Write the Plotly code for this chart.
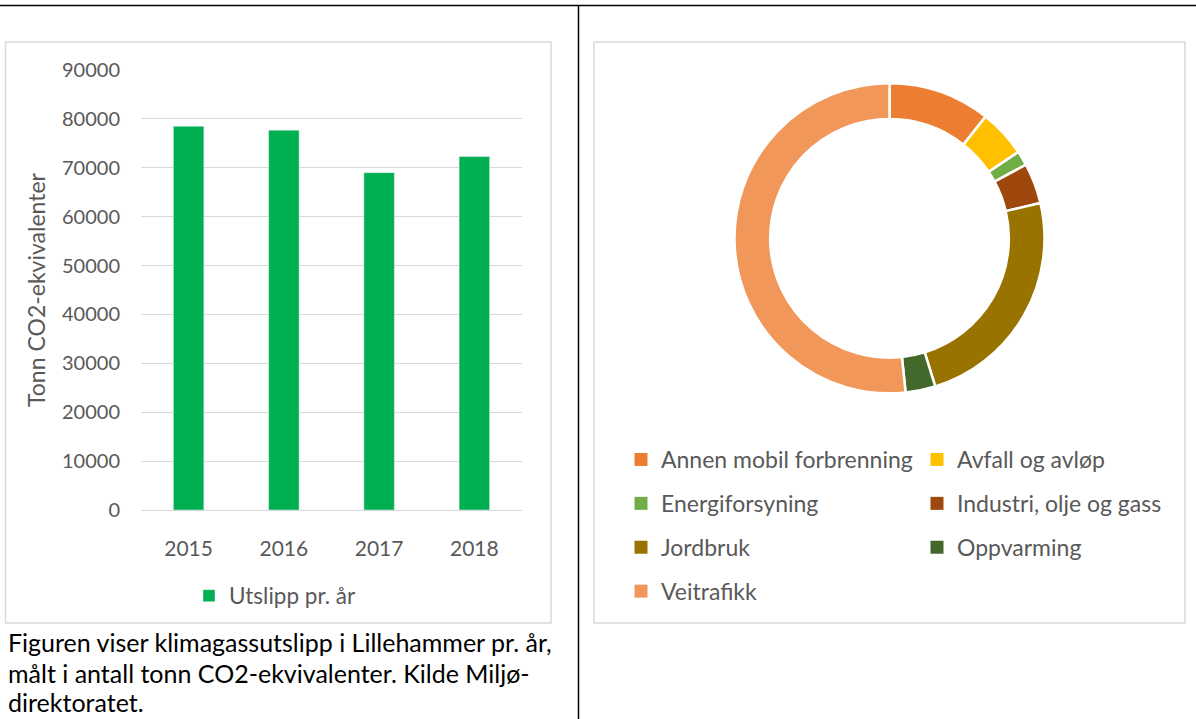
import plotly.graph_objects as go

W, H = 1196, 719

# ---- data ----
years = ["2015", "2016", "2017", "2018"]
emissions = [78500, 77700, 69000, 72300]
bar_series_name = "Utslipp pr. år"
y_ticks = [0, 10000, 20000, 30000, 40000, 50000, 60000, 70000, 80000, 90000]

sectors = ["Annen mobil forbrenning", "Avfall og avløp", "Energiforsyning",
           "Industri, olje og gass", "Jordbruk", "Oppvarming", "Veitrafikk"]
sector_values = [7700, 3600, 1100, 3050, 17300, 2250, 37400]
sector_colors = ["#ED7D31", "#FFC000", "#70AD47", "#9E480E", "#997300", "#43682B", "#F1975A"]

caption_lines = ["Figuren viser klimagassutslipp i Lillehammer pr. år,",
                 "målt i antall tonn CO2-ekvivalenter. Kilde Miljø-",
                 "direktoratet."]

FONT = "Lato"
GREY = "#595959"


def px(x):
    return x / W


def py(y):
    return 1 - y / H


fig = go.Figure()

fig.add_trace(go.Bar(
    x=years, y=emissions, name=bar_series_name, marker_color="#00B050",
    width=0.32, xaxis="x", yaxis="y", legend="legend", showlegend=True,
    hoverinfo="x+y"))

fig.add_trace(go.Pie(
    labels=sectors, values=sector_values, hole=0.77, sort=False,
    direction="clockwise", rotation=0, textinfo="none",
    marker=dict(colors=sector_colors, line=dict(color="white", width=2.5)),
    domain=dict(x=[px(734.5), px(1044.5)], y=[py(393.3), py(83.3)]),
    showlegend=False))

# legend entries for the donut, split over two columns
col1 = [0, 2, 4, 6]
col2 = [1, 3, 5]
for idx in col1 + col2:
    fig.add_trace(go.Scatter(
        x=[None], y=[None], mode="markers", name=sectors[idx],
        marker=dict(symbol="square", size=13, color=sector_colors[idx]),
        xaxis="x2", yaxis="y2", legendgroup="g%d" % idx,
        legend="legend2" if idx in col1 else "legend3", hoverinfo="skip"))

legend_font = dict(family=FONT, size=23, color=GREY)

fig.update_layout(
    width=W, height=H, margin=dict(l=0, r=0, t=0, b=0, autoexpand=False),
    paper_bgcolor="white", plot_bgcolor="white",
    font=dict(family=FONT, color=GREY),
    xaxis=dict(domain=[px(141), px(522)], type="category", showgrid=False,
               showline=False, ticks="", tickfont=dict(size=21, color=GREY),
               ticklabelstandoff=24, anchor="y", automargin=False),
    yaxis=dict(domain=[py(510), py(70)], range=[0, 90000], tickvals=y_ticks,
               ticktext=[str(v) for v in y_ticks],
               showgrid=True, gridcolor="#D9D9D9", gridwidth=1,
               zeroline=True, zerolinecolor="#D9D9D9", zerolinewidth=1,
               showline=False, ticks="", tickfont=dict(size=20, color=GREY),
               ticklabelstandoff=20, anchor="x", automargin=False,
               title=dict(text="Tonn CO2-ekvivalenter",
                          font=dict(size=23, color=GREY), standoff=9)),
    xaxis2=dict(visible=False, domain=[0.99, 1.0], anchor="y2"),
    yaxis2=dict(visible=False, domain=[0.99, 1.0], anchor="x2"),
    legend=dict(orientation="v", x=px(189), xanchor="left", y=py(596),
                yanchor="middle", font=dict(family=FONT, size=22.5, color=GREY),
                bgcolor="rgba(0,0,0,0)"),
    legend2=dict(orientation="v", x=px(621), xanchor="left", y=py(438),
                 yanchor="top", font=legend_font, traceorder="grouped",
                 tracegroupgap=11, bgcolor="rgba(0,0,0,0)"),
    legend3=dict(orientation="v", x=px(917), xanchor="left", y=py(438),
                 yanchor="top", font=legend_font, traceorder="grouped",
                 tracegroupgap=11, bgcolor="rgba(0,0,0,0)"),
    shapes=[
        dict(type="line", xref="paper", yref="paper", x0=0, x1=1,
             y0=py(5.5), y1=py(5.5), line=dict(color="black", width=1.5)),
        dict(type="line", xref="paper", yref="paper", x0=px(578.5), x1=px(578.5),
             y0=py(5.5), y1=0, line=dict(color="black", width=1.5)),
        dict(type="rect", xref="paper", yref="paper", x0=px(5.5), x1=px(551),
             y0=py(623), y1=py(42), line=dict(color="#D9D9D9", width=1.5)),
        dict(type="rect", xref="paper", yref="paper", x0=px(594), x1=px(1185),
             y0=py(623), y1=py(42), line=dict(color="#D9D9D9", width=1.5)),
    ],
)

for i, (line, yc) in enumerate(zip(caption_lines, [642, 673, 702])):
    fig.add_annotation(text=line, xref="paper", yref="paper", x=px(6), y=py(yc),
                       xanchor="left", yanchor="middle", showarrow=False,
                       font=dict(family=FONT, size=25, color="black"))

fig.write_html("out.html", config={"displayModeBar": False},
               post_script="document.body.style.margin='0px';")
